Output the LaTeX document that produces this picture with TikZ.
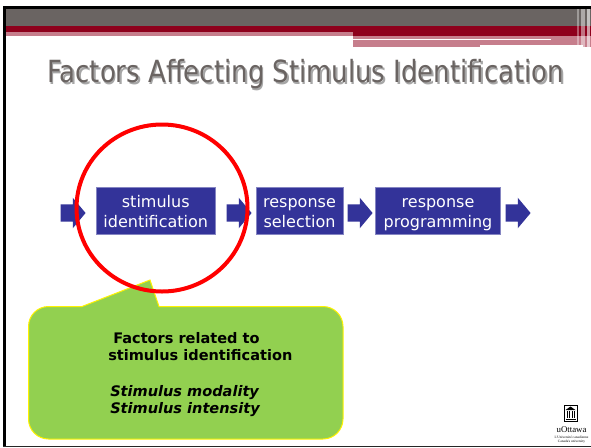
\documentclass[tikz,border=0pt]{standalone}
\usepackage{fontspec}
\setmainfont{DejaVu Sans}
\newfontfamily\titlefont[FakeStretch=0.85]{DejaVu Sans}
\newfontfamily\logofont{Liberation Serif}
\usetikzlibrary{shapes.arrows}
\definecolor{slategray}{HTML}{6A6462}
\definecolor{wine}{HTML}{8E001C}
\definecolor{rosepink}{HTML}{C67E8C}
\definecolor{boxblue}{HTML}{333399}
\definecolor{calloutgreen}{HTML}{92D050}
\tikzset{
  x=0.75pt,y=-0.75pt,
  stagebox/.style={fill=boxblue,draw=boxblue!60!white,line width=0.3pt,text=white,align=center,inner sep=0pt,
    minimum height=47*0.75pt,font=\fontsize{12pt}{15pt}\selectfont},
  flowarrow/.style={single arrow,fill=boxblue,inner sep=0pt,minimum height=25*0.75pt,
    single arrow head extend=6.75*0.75pt,single arrow tip angle=100},
  titletext/.style={font=\titlefont\fontsize{22.9pt}{28pt}\selectfont,inner sep=0pt},
}
\newcommand{\shaftrule}{\rule{0pt}{12.4pt}}
\newcommand{\upstrut}{\rule{0pt}{13pt}}
\newcommand{\downstrut}{\rule[-3.25pt]{0pt}{1pt}}
\begin{document}
\begin{tikzpicture}
\useasboundingbox (0,0) rectangle (591,447);
\fill[white] (0,0) rectangle (591,447);
% frame
\fill[black] (3,6) rectangle (591,9);
\fill[black] (3,6) rectangle (6,447);
\fill[black!85] (3,445.5) rectangle (591,447);
% banner
\fill[slategray] (6,9) rectangle (591,26);
\fill[wine] (6,26) rectangle (591,36);
\fill[rosepink] (6,32) rectangle (353,36);
\fill[rosepink] (353,36) rectangle (591,47);
\fill[white] (353,38.5) rectangle (551,40);
\fill[white] (480,44.5) rectangle (583,47);
\fill[white,opacity=.35] (577,9) rectangle (579,47);
\fill[white,opacity=.45] (581,9) rectangle (585,47);
\fill[white,opacity=.6] (587,9) rectangle (590,47);
% title
\node[titletext,text=black!35] (titleshadow) at (307,76) {Factors Affecting Stimulus Identification};
\node[titletext,text=slategray] (title) at (305.5,74.5) {Factors Affecting Stimulus Identification};
% flow
\node[flowarrow] (a1) at (69.5,213) {\shaftrule};
\node[stagebox,minimum width=119.5*0.75pt] (s1) at (155.75,210.5) {\upstrut stimulus\\identification\downstrut};
\node[flowarrow] (a2) at (235.5,213) {\shaftrule};
\node[stagebox,minimum width=87*0.75pt] (s2) at (299.5,210.5) {\upstrut response\\selection\downstrut};
\node[flowarrow] (a3) at (356.5,213) {\shaftrule};
\node[stagebox,minimum width=125*0.75pt] (s3) at (438,210.5) {\upstrut response\\programming\downstrut};
\node[flowarrow] (a4) at (514.5,213) {\shaftrule};
% callout
\draw[draw=yellow,fill=calloutgreen,line width=0.75pt]
  (48.5,306.5) -- (82,306.5) -- (150,280) -- (159,306.5) -- (323,306.5)
  arc[start angle=90,end angle=0,radius=20*0.75pt] -- (343,419)
  arc[start angle=0,end angle=-90,radius=20*0.75pt] -- (48.5,439)
  arc[start angle=270,end angle=180,radius=20*0.75pt] -- (28.5,326.5)
  arc[start angle=180,end angle=90,radius=20*0.75pt] -- cycle;
\node[anchor=north west,inner sep=0pt,align=left,font=\fontsize{10.9pt}{13.2pt}\selectfont] (note) at (108,332)
  {\hspace*{3.75pt}\textbf{Factors related to}\\\textbf{stimulus identification}\\[13.2pt]
   \hspace*{1.5pt}\textbf{\textit{Stimulus modality}}\\\hspace*{1.5pt}\textbf{\textit{Stimulus intensity}}};
% circle
\draw[red,line width=3pt] (162,208) ellipse [x radius=85.5,y radius=83.5];
% logo
\draw[black,line width=0.5pt,fill=white] (564,405) rectangle (577,421.5);
\fill[black] (565.5,410) -- (570.5,406.5) -- (575.5,410) -- cycle;
\fill[black] (565.5,418.5) rectangle (575.5,420);
\foreach \lx in {566.5,569,571.5,574}{\fill[black] (\lx,411) rectangle (\lx+1.1,417.5);}
\node[font=\logofont\fontsize{6.6pt}{7pt}\selectfont,inner sep=0pt] (logoname) at (571.5,430) {uOttawa};
\node[font=\logofont\fontsize{2.6pt}{3.2pt}\selectfont,inner sep=0pt,align=center] (logotag) at (571.5,440) {L'Université canadienne\\Canada's university};
\end{tikzpicture}
\end{document}
